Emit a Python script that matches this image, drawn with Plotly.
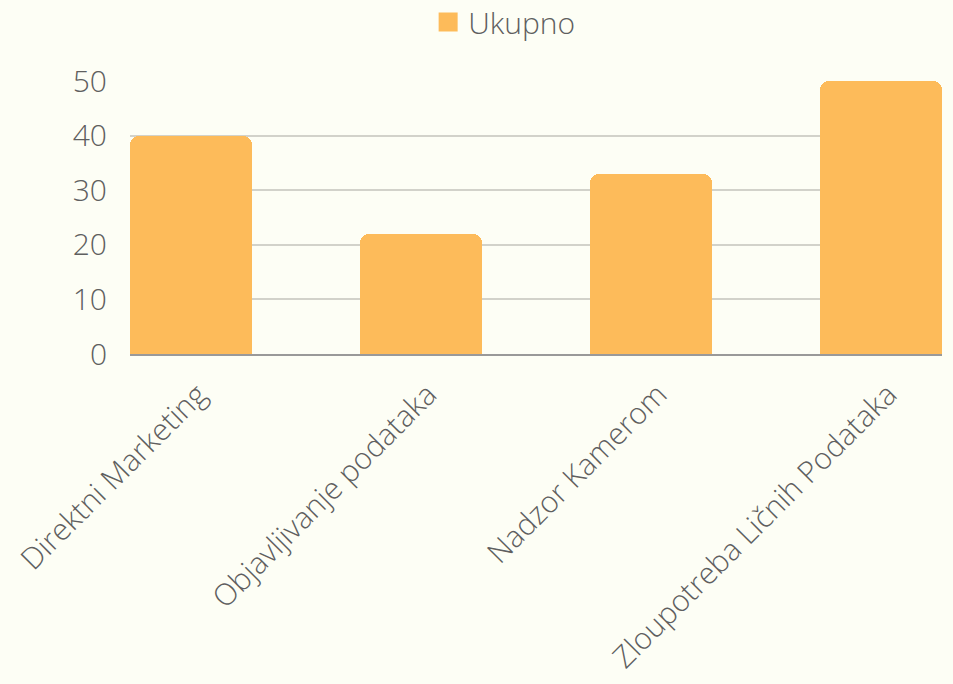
import plotly.graph_objects as go

categories = ["Direktni Marketing", "Objavljivanje podataka", "Nadzor Kamerom", "Zloupotreba Ličnih Podataka"]
values = [40, 22, 33, 50]
series_name = "Ukupno"
y_ticks = [0, 10, 20, 30, 40, 50]

FONT = "Open Sans"
TXT = "#5f5f5f"
BG = "#FDFEF5"
BAR = "#FDBB5A"

fig = go.Figure()
fig.add_trace(go.Bar(
    x=categories, y=values, name=series_name,
    marker=dict(color=BAR, cornerradius=9, line=dict(width=0)),
    width=0.53, showlegend=False, legendgroup="u",
))
# legend entry with a larger square swatch
fig.add_trace(go.Scatter(
    x=[None], y=[None], mode="markers", name=series_name, legendgroup="u",
    marker=dict(symbol="square", size=16, color=BAR, line=dict(color=BAR, width=3)),
    showlegend=True, hoverinfo="skip",
))

fig.update_layout(
    width=953, height=684,
    paper_bgcolor=BG, plot_bgcolor=BG,
    margin=dict(l=130, r=11, t=81, b=330, autoexpand=False),
    font=dict(family=FONT, size=30, color=TXT, weight=300),
    legend=dict(orientation="h", x=0.529, xref="container", xanchor="center",
                y=1 - 22 / 684, yref="container", yanchor="middle",
                font=dict(family=FONT, size=30, color=TXT, weight=300),
                bgcolor="rgba(0,0,0,0)"),
    bargap=0,
)
fig.update_xaxes(range=[-0.265, 3.265], tickangle=-45, showgrid=False,
                 showline=True, linecolor="#999999", linewidth=2, automargin=False,
                 ticks="", ticklabelstandoff=9, ticklabelshift=7,
                 tickfont=dict(family=FONT, size=30, color=TXT, weight=300))
fig.update_yaxes(range=[0, 50], tickvals=y_ticks, showgrid=True, gridcolor="#D2D2CA", gridwidth=2,
                 zeroline=False, ticks="", ticklabelstandoff=22, automargin=False,
                 tickfont=dict(family=FONT, size=30, color=TXT, weight=300))

fig.write_html("out.html", config={"displayModeBar": False},
               post_script="document.body.style.margin='0';document.body.style.background='%s';" % BG)
